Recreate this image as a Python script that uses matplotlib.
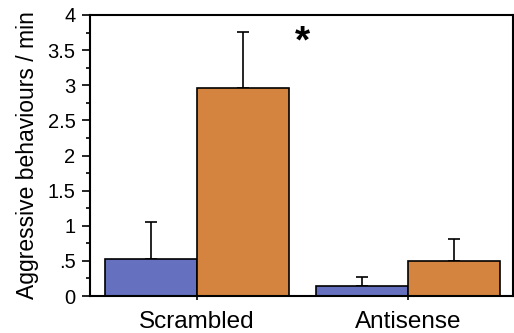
import matplotlib
matplotlib.use("Agg")
import matplotlib.pyplot as plt
import numpy as np
from matplotlib.ticker import MultipleLocator

plt.rcParams['font.family'] = ['Liberation Sans', 'DejaVu Sans']

categories = ["Scrambled", "Antisense"]
blue_vals = [0.53, 0.14]
blue_err = [0.53, 0.135]
orange_vals = [2.96, 0.50]
orange_err = [0.80, 0.31]
ytick_vals = [0, 0.5, 1, 1.5, 2, 2.5, 3, 3.5, 4]
ytick_labels = ["0", ".5", "1", "1.5", "2", "2.5", "3", "3.5", "4"]

fig = plt.figure(figsize=(5.14, 3.33), dpi=100)
ax = fig.add_axes([90/514, 1-296/333, 423/514, 281/333])

x = np.arange(len(categories))
w = 0.436
blue = "#6570bf"
orange = "#d4843e"

ax.bar(x - w/2, blue_vals, w, color=blue, edgecolor="black", linewidth=1.2, zorder=2)
ax.bar(x + w/2, orange_vals, w, color=orange, edgecolor="black", linewidth=1.2, zorder=2)
ax.errorbar(x - w/2, blue_vals, yerr=[np.zeros(2), blue_err], fmt="none",
            ecolor="black", elinewidth=1.2, capsize=4, capthick=1.2, zorder=1)
ax.errorbar(x + w/2, orange_vals, yerr=[np.zeros(2), orange_err], fmt="none",
            ecolor="black", elinewidth=1.2, capsize=4, capthick=1.2, zorder=1)

ax.set_xlim(-0.507, 1.498)
ax.set_ylim(0, 4)
ax.set_yticks(ytick_vals)
ax.set_yticklabels(ytick_labels, fontsize=14.5)
ax.yaxis.set_minor_locator(MultipleLocator(0.25))
ax.tick_params(axis='y', which='major', direction='out', length=5.5, width=1.2, pad=5)
ax.tick_params(axis='y', which='minor', direction='out', length=3, width=1.2)
ax.set_xticks(x)
ax.set_xticklabels(categories, fontsize=17.5)
ax.tick_params(axis='x', direction='out', length=3, width=1.2, pad=8)
for s in ax.spines.values():
    s.set_linewidth(1.5)

ax.set_ylabel("Aggressive behaviours / min", fontsize=16.5, labelpad=6)
ax.text(302/514, 1-42/333, "*", transform=fig.transFigure, fontsize=28,
        fontweight='bold', ha='center', va='center')

fig.savefig("out.png", dpi=100)
